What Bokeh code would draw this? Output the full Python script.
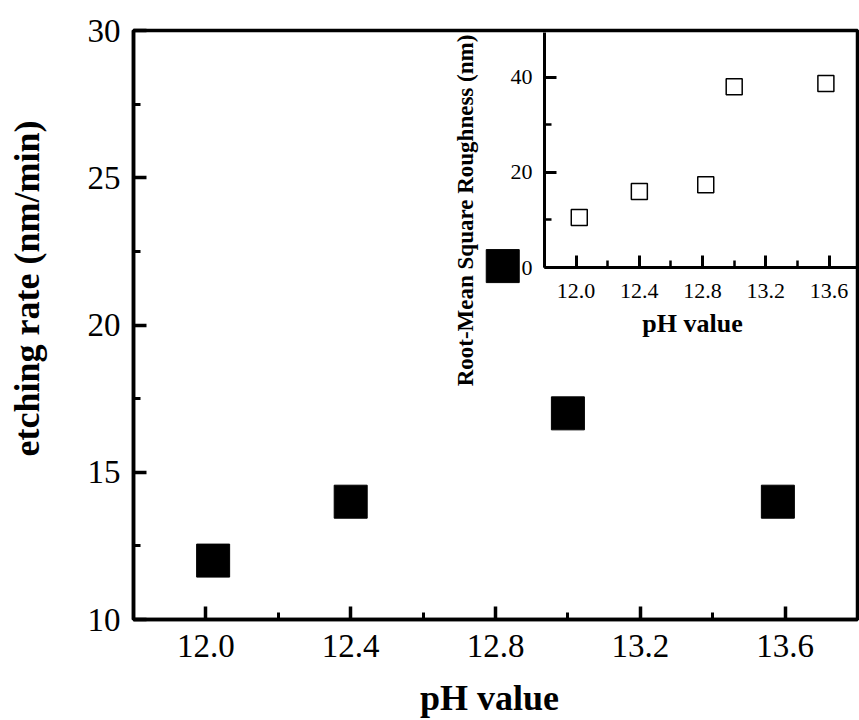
import math
from bokeh.plotting import figure
from bokeh.layouts import column
from bokeh.models import FixedTicker, NumeralTickFormatter, Label, Range1d
from bokeh.embed import file_html
from bokeh.resources import INLINE

# ---- data ----
ph_main = [12.02, 12.40, 12.82, 13.00, 13.58]
etch_rate = [12.0, 14.0, 22.0, 17.0, 14.0]

ph_inset = [12.02, 12.40, 12.82, 13.00, 13.58]
rms_roughness = [10.5, 16.0, 17.4, 38.0, 38.7]

x_major = [12.0, 12.4, 12.8, 13.2, 13.6]
x_minor = [11.8, 12.2, 12.6, 13.0, 13.4, 13.8]
y_major = [10, 15, 20, 25, 30]
y_minor = [12.5, 17.5, 22.5, 27.5]
inset_y_major = [0, 20, 40]
inset_y_minor = [10, 30]

FONT = "Liberation Serif"
W, H = 859, 720

# ---- main figure ----
p = figure(width=W, height=H, x_range=(11.8, 13.8), y_range=(10, 30),
           toolbar_location=None, output_backend="svg", title=None,
           min_border_left=133, min_border_right=2, min_border_top=30,
           min_border_bottom=101)
p.frame_align = False
p.grid.visible = False
p.outline_line_color = "black"
p.outline_line_width = 3.5

p.scatter(ph_main, etch_rate, marker="square", size=33,
          fill_color="black", line_color="black")

for ax in (p.xaxis[0], p.yaxis[0]):
    ax.axis_line_width = 3.5
    ax.major_tick_line_width = 3.5
    ax.minor_tick_line_width = 3
    ax.major_tick_in = 13
    ax.major_tick_out = 0
    ax.minor_tick_in = 7
    ax.minor_tick_out = 0
    ax.major_label_text_font = FONT
    ax.major_label_text_font_size = "33px"
    ax.major_label_text_color = "black"

p.xaxis[0].ticker = FixedTicker(ticks=x_major, minor_ticks=x_minor)
p.xaxis[0].formatter = NumeralTickFormatter(format="0.0")
p.xaxis[0].major_label_standoff = 15

p.yaxis[0].ticker = FixedTicker(ticks=y_major, minor_ticks=y_minor)
p.yaxis[0].formatter = NumeralTickFormatter(format="0")
p.yaxis[0].major_label_standoff = 13

# ---- inset figure ----
inset = figure(width=375, height=325, x_range=(11.8, 13.78), y_range=(0, 49.4),
               toolbar_location=None, output_backend="svg", title=None,
               min_border_left=60, min_border_right=2, min_border_top=10,
               min_border_bottom=80,
               background_fill_color=None, border_fill_color=None)
inset.frame_align = False
inset.grid.visible = False
inset.outline_line_color = None

inset.scatter(ph_inset, rms_roughness, marker="square", size=16,
              fill_color="white", line_color="black", line_width=1.5)

for ax in (inset.xaxis[0], inset.yaxis[0]):
    ax.axis_line_width = 3
    ax.major_tick_line_width = 3
    ax.minor_tick_line_width = 2.5
    ax.major_tick_in = 12
    ax.major_tick_out = 0
    ax.minor_tick_in = 7
    ax.minor_tick_out = 0
    ax.major_label_text_font = FONT
    ax.major_label_text_font_size = "22px"
    ax.major_label_text_color = "black"

inset.xaxis[0].ticker = FixedTicker(ticks=x_major, minor_ticks=x_minor)
inset.xaxis[0].formatter = NumeralTickFormatter(format="0.0")
inset.xaxis[0].major_label_standoff = 16

inset.yaxis[0].ticker = FixedTicker(ticks=inset_y_major, minor_ticks=inset_y_minor)
inset.yaxis[0].formatter = NumeralTickFormatter(format="0")
inset.yaxis[0].major_label_standoff = 12

inset.margin = (-698, 0, 0, 484)

# ---- transparent overlay carrying the axis titles ----
ov = figure(width=W, height=H, x_range=Range1d(0, W), y_range=Range1d(0, H),
            x_axis_type=None, y_axis_type=None,
            toolbar_location=None, output_backend="svg", title=None,
            min_border=0, background_fill_color=None, border_fill_color=None)
ov.frame_align = False
ov.grid.visible = False
ov.outline_line_color = None
ov.margin = (-347, 0, 0, 0)

ov.add_layout(Label(x=489, y=23, x_units="screen", y_units="screen",
                    text="pH value", text_align="center",
                    text_baseline="alphabetic",
                    text_font=FONT, text_font_style="bold",
                    text_font_size="36px", text_color="black"))
ov.add_layout(Label(x=26, y=432, x_units="screen", y_units="screen",
                    text="etching rate (nm/min)", angle=math.pi / 2,
                    text_align="center", text_baseline="alphabetic",
                    text_font=FONT, text_font_style="bold",
                    text_font_size="36px", text_color="black"))
ov.add_layout(Label(x=465, y=510, x_units="screen", y_units="screen",
                    text="Root-Mean Square Roughness (nm)", angle=math.pi / 2,
                    text_align="center", text_baseline="alphabetic",
                    text_font=FONT, text_font_style="bold",
                    text_font_size="23px", text_color="black"))
ov.add_layout(Label(x=692, y=397, x_units="screen", y_units="screen",
                    text="pH value", text_align="center",
                    text_baseline="alphabetic",
                    text_font=FONT, text_font_style="bold",
                    text_font_size="26px", text_color="black"))

layout = column(p, inset, ov)
open("out.html", "w").write(file_html(layout, INLINE))
